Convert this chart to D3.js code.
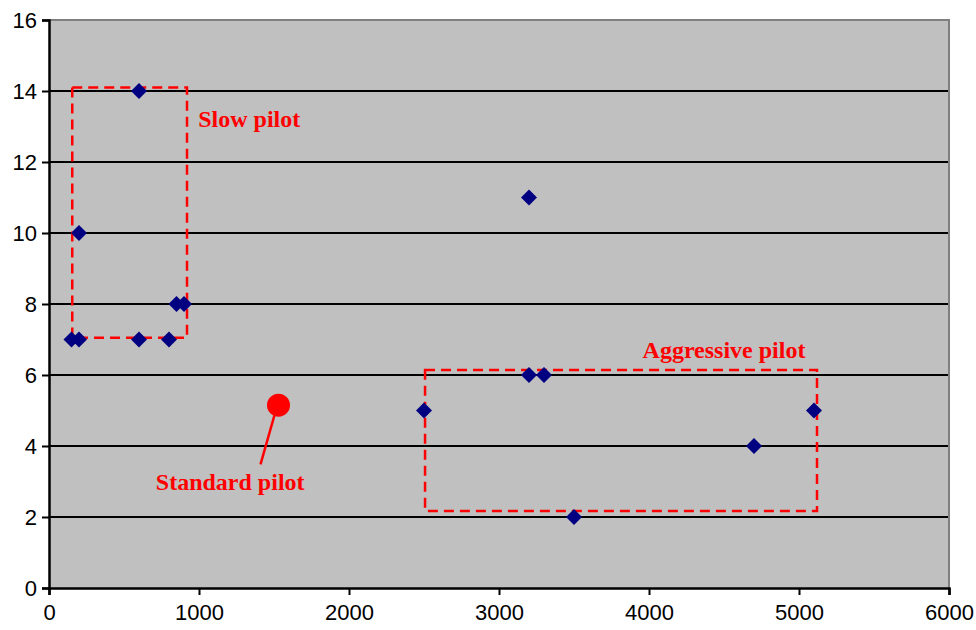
<!DOCTYPE html>
<html>
<head>
<meta charset="utf-8">
<script src="https://cdn.jsdelivr.net/npm/d3@7"></script>
<style>
  body { margin: 0; background: #fff; }
  svg { display: block; }
  .tick text { font-family: "Liberation Sans", Arial, sans-serif; font-size: 22px; fill: #000; }
  .note { font-family: "Liberation Serif", "Times New Roman", serif; font-size: 24px; font-weight: bold; fill: #ff0000; }
</style>
</head>
<body>
<svg id="canvas" width="976" height="630"></svg>
<script>
// datos de los pilotos (x, y)
const xValues = [150, 200, 200, 600, 600, 800, 850, 900, 2500, 3200, 3200, 3300, 3500, 4700, 5100]
const yValues = [7, 7, 10, 14, 7, 7, 8, 8, 5, 11, 6, 6, 2, 4, 5]

// piloto estandar
const standardX = [1530]
const standardY = [5.15]

const xTicks = [0, 1000, 2000, 3000, 4000, 5000, 6000]
const yTicks = [0, 2, 4, 6, 8, 10, 12, 14, 16]

// cajas de anotacion [x0, x1, y0, y1] en unidades de datos
const slowBox = [155, 920, 7.05, 14.1]
const aggressiveBox = [2507, 5120, 2.17, 6.14]

const canvas = d3.select("#canvas")
const margin = { left: 49, right: 27, top: 20, bottom: 42 }
const width = 976 - margin.left - margin.right
const height = 630 - margin.top - margin.bottom

const x = d3.scaleLinear().domain([0, 6000]).range([0, width])
const y = d3.scaleLinear().domain([0, 16]).range([height, 0])

const g = canvas.append("g")
    .attr("transform", "translate(" + margin.left + "," + margin.top + ")")

// fondo gris del area
g.append("rect")
    .attr("width", width)
    .attr("height", height)
    .attr("fill", "#c0c0c0")

// lineas de la cuadricula
g.selectAll(".grid")
    .data(yTicks.filter(d => d > 0 && d < 16))
    .enter()
    .append("line")
    .attr("x1", 0).attr("x2", width)
    .attr("y1", d => y(d)).attr("y2", d => y(d))
    .attr("stroke", "#000")
    .attr("stroke-width", 2)

// borde superior y derecho
g.append("path")
    .attr("d", "M0," + y(16) + "H" + width + "V" + height)
    .attr("fill", "none")
    .attr("stroke", "#808080")
    .attr("stroke-width", 2)

// ejes
const xAxis = d3.axisBottom(x).tickValues(xTicks).tickSize(7).tickPadding(9).tickFormat(d3.format("d"))
const yAxis = d3.axisLeft(y).tickValues(yTicks).tickSize(7).tickPadding(5)

g.append("g")
    .attr("transform", "translate(0," + height + ")")
    .call(xAxis)
    .call(a => a.select(".domain").attr("stroke-width", 2.5))
    .call(a => a.selectAll(".tick line").attr("stroke-width", 2))

g.append("g")
    .call(yAxis)
    .call(a => a.select(".domain").attr("stroke-width", 2.5))
    .call(a => a.selectAll(".tick line").attr("stroke-width", 2))
    .call(a => a.selectAll(".tick text").attr("dy", "0.36em"))

// cajas punteadas
const drawBox = b => {
    g.append("rect")
        .attr("x", x(b[0]))
        .attr("y", y(b[3]))
        .attr("width", x(b[1]) - x(b[0]))
        .attr("height", y(b[2]) - y(b[3]))
        .attr("fill", "none")
        .attr("stroke", "#ff0000")
        .attr("stroke-width", 2.5)
        .attr("stroke-dasharray", "10,6")
}
drawBox(slowBox)
drawBox(aggressiveBox)

// rombos
const r = 8
g.selectAll(".pt")
    .data(xValues.map((d, i) => [d, yValues[i]]))
    .enter()
    .append("path")
    .attr("d", d => {
        const cx = x(d[0]), cy = y(d[1])
        return "M" + cx + "," + (cy - r) + "L" + (cx + r) + "," + cy + "L" + cx + "," + (cy + r) + "L" + (cx - r) + "," + cy + "Z"
    })
    .attr("fill", "#000080")

// piloto estandar
const sx = x(standardX[0]), sy = y(standardY[0])
g.append("line")
    .attr("x1", sx - 4).attr("y1", sy + 10)
    .attr("x2", x(1410)).attr("y2", y(3.48))
    .attr("stroke", "#ff0000")
    .attr("stroke-width", 2.5)
g.append("circle")
    .attr("cx", sx).attr("cy", sy).attr("r", 11.5)
    .attr("fill", "#ff0000")

// textos
g.append("text").attr("class", "note")
    .attr("x", x(1208)).attr("y", y(2.75))
    .attr("text-anchor", "middle")
    .text("Standard pilot")
g.append("text").attr("class", "note")
    .attr("x", x(995)).attr("y", y(13.0))
    .text("Slow pilot")
g.append("text").attr("class", "note")
    .attr("x", x(4500)).attr("y", y(6.48))
    .attr("text-anchor", "middle")
    .text("Aggressive pilot")
</script>
</body>
</html>
